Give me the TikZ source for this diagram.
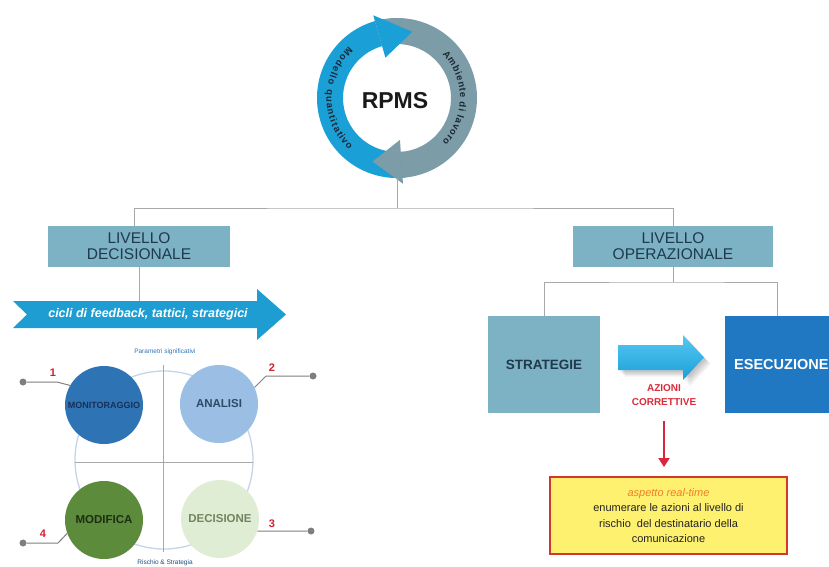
\documentclass[tikz,border=0pt]{standalone}
\usepackage{fontspec}
\setmainfont{Liberation Sans}
\usetikzlibrary{decorations.text,arrows.meta}
\definecolor{ringblue}{HTML}{1A9FD6}
\definecolor{ringgray}{HTML}{7C9DA7}
\definecolor{ringtext}{HTML}{1B2836}
\definecolor{rpmstext}{HTML}{1A1A1A}
\definecolor{boxteal}{HTML}{7DB1C4}
\definecolor{boxtext}{HTML}{1E3A4C}
\definecolor{linegray}{HTML}{A8A8A8}
\definecolor{fbblue}{HTML}{1E9DD3}
\definecolor{exeblue}{HTML}{1F78C1}
\definecolor{cyanlight}{HTML}{55C8F2}
\definecolor{cyandark}{HTML}{1C9FD8}
\definecolor{redtxt}{HTML}{D92B3A}
\definecolor{redarrow}{HTML}{D9263E}
\definecolor{ybfill}{HTML}{FFF170}
\definecolor{ybborder}{HTML}{D3362C}
\definecolor{ybtext}{HTML}{222222}
\definecolor{orangetxt}{HTML}{F07E26}
\definecolor{monblue}{HTML}{2E74B5}
\definecolor{montext}{HTML}{1B2F55}
\definecolor{anblue}{HTML}{9BBEE4}
\definecolor{antext}{HTML}{2F4A66}
\definecolor{modgreen}{HTML}{5B8B3B}
\definecolor{modtext}{HTML}{1E2D14}
\definecolor{decgreen}{HTML}{E0EDD5}
\definecolor{dectext}{HTML}{6F8560}
\definecolor{outlinecol}{HTML}{C5D5E8}
\definecolor{crossgray}{HTML}{A8A8A8}
\definecolor{numred}{HTML}{D0202E}
\definecolor{dotgray}{HTML}{7F7F7F}
\definecolor{paramblue}{HTML}{2E75B6}
\definecolor{rischioblue}{HTML}{1F4E79}
\begin{document}
\begin{tikzpicture}[x=1pt,y=1pt,
  conn/.style={draw=linegray, line width=1pt},
  levelbox/.style={rectangle, fill=boxteal, text=boxtext, align=center, inner sep=0pt,
    minimum height=41pt, font=\fontsize{15.5}{16}\selectfont},
  stratbox/.style={rectangle, inner sep=0pt, minimum width=112pt, minimum height=97pt},
  phase/.style={circle, inner sep=0pt, minimum size=78pt, font=\fontsize{11.5}{12}\selectfont\bfseries},
  num/.style={text=numred, font=\fontsize{11}{12}\selectfont\bfseries, inner sep=0pt},
  dot/.style={circle, fill=dotgray, inner sep=0pt, minimum size=7pt},
  callout/.style={draw=dotgray, line width=1pt},
  tinylabel/.style={font=\fontsize{6.5}{7}\selectfont, inner sep=0pt}]
\useasboundingbox (0,0) rectangle (829,-566);
\fill[white] (0,0) rectangle (829,-566);

% ---------- RPMS ring ----------
\node[circle, minimum size=160pt, inner sep=0pt] (ring) at (397,-98) {};
\begin{scope}[shift={(397,-98)}]
  \fill[ringblue] (106:80) arc[start angle=106, end angle=276, radius=80] -- (276:54) arc[start angle=276, end angle=106, radius=54] -- cycle;
  \fill[ringgray] (106:80) arc[start angle=106, end angle=-86, radius=80] -- (-86:54) arc[start angle=-86, end angle=106, radius=54] -- cycle;
  \fill[ringblue] (106:42) -- (106:86) -- (77:68) -- cycle;
  \fill[ringgray] (-86:42) -- (-86:86) -- (249:68) -- cycle;
  \path[decorate, decoration={text effects along path, text={Modello quantitativo}, text align=center,
      text effects/.cd, text along path,
      every character/.append style={font=\fontsize{9.5}{10}\selectfont\bfseries, text=ringtext},
      character widths={inner xsep=0.7pt}}]
      (122:70.5) arc[start angle=122, end angle=238, radius=70.5];
  \path[decorate, decoration={text effects along path, text={Ambiente di lavoro}, text align=center,
      text effects/.cd, text along path,
      every character/.append style={font=\fontsize{9.5}{10}\selectfont\bfseries, text=ringtext},
      character widths={inner xsep=0.4pt}}]
      (58:63) arc[start angle=58, end angle=-58, radius=63];
  \node[font=\fontsize{23}{24}\selectfont\bfseries, text=rpmstext] (rpms) at (-2,-3) {RPMS};
\end{scope}

% ---------- level boxes ----------
\node[levelbox, minimum width=182pt] (lvd) at (139,-246.5) {LIVELLO\\DECISIONALE};
\node[levelbox, minimum width=200pt] (lvo) at (673,-246.5) {LIVELLO\\OPERAZIONALE};
\coordinate (hub) at (397,-208);
\draw[conn] (ring.south) -- (hub);
\draw[conn] ([xshift=-5pt]lvd.north) |- (hub) -| (lvo.north);

% ---------- feedback arrow ----------
\fill[fbblue] (13,-301) -- (257,-301) -- (257,-289) -- (286,-314.5) -- (257,-340) -- (257,-328) -- (13,-328) -- (27,-314.5) -- cycle;
\node[font=\fontsize{12.5}{13}\selectfont\bfseries\itshape, text=white] (fb) at (148,-314.5) {cicli di feedback, tattici, strategici};
\coordinate (fbtop) at (139,-301);
\draw[conn] (lvd.south) -- (fbtop);

% ---------- operational subtree ----------
\node[stratbox, fill=boxteal, text=boxtext, font=\fontsize{13.5}{14}\selectfont\bfseries] (strat) at (544,-364.5) {STRATEGIE};
\node[stratbox, fill=exeblue, minimum width=104pt] (exec) at (777,-364.5) {};
\node[anchor=west, text=white, inner sep=0pt, font=\fontsize{14.5}{15}\selectfont\bfseries] (exectext) at (734,-364) {ESECUZIONE};
\coordinate (split) at (673,-282);
\draw[conn] (lvo.south) -- (split);
\draw[conn] (strat.north) |- (split) -| (exec.north);

% cyan arrow with soft shadow
\foreach \s in {2,3.5,5,6.5}{
  \begin{scope}[shift={(\s,-\s)}]
    \fill[black, opacity=0.06] (618,-345) -- (683,-345) -- (683,-335) -- (704,-357.5) -- (683,-380) -- (683,-370) -- (618,-370) -- cycle;
  \end{scope}}
\shade[top color=cyanlight, bottom color=cyandark] (618,-345) -- (683,-345) -- (683,-335) -- (704,-357.5) -- (683,-380) -- (683,-370) -- (618,-370) -- cycle;

\node[align=center, text=redtxt, font=\fontsize{10}{14}\selectfont\bfseries] (azioni) at (664,-395) {AZIONI\\CORRETTIVE};
\node[draw=ybborder, line width=2pt, fill=ybfill, minimum width=237pt, minimum height=77pt,
  align=center, inner sep=0pt, text=ybtext, font=\fontsize{11}{15.3}\selectfont] (yb) at (668.5,-515.5)
  {{\color{orangetxt}\itshape aspetto real-time}\\enumerare le azioni al livello di\\rischio\ \ del destinatario della\\comunicazione};
\draw[draw=redarrow, line width=2pt, -{Triangle[length=9pt,width=11pt]}, shorten <=12pt, shorten >=9pt]
  (azioni.south) -- (azioni.south |- yb.north);

% ---------- decision cycle ----------
\draw[draw=outlinecol, line width=1.3pt] (164,-460) circle[radius=89];
\draw[draw=crossgray, line width=1pt] (163,-365) -- (163,-552);
\draw[draw=crossgray, line width=1pt] (75,-462) -- (253,-462);
\node[phase, fill=monblue, text=montext, font=\fontsize{9}{9}\selectfont\bfseries] (mon) at (104,-405) {MONITORAGGIO};
\node[phase, fill=anblue, text=antext] (ana) at (219,-404) {ANALISI};
\node[phase, fill=modgreen, text=modtext] (mod) at (104,-520) {MODIFICA};
\node[phase, fill=decgreen, text=dectext] (dec) at (220,-519) {DECISIONE};

\node[dot] (d1) at (23,-382) {};
\node[dot] (d2) at (313,-376) {};
\node[dot] (d3) at (311,-531) {};
\node[dot] (d4) at (23,-543) {};
\draw[callout] (d1) -- (57,-382) -- (mon.150);
\draw[callout] (d2) -- (266,-376) -- (ana.25);
\draw[callout] (d3) -- (dec.-18);
\draw[callout] (d4) -- (58,-543) -- (mod.200);
\node[num] (n1) at (53,-373) {1};
\node[num] (n2) at (272,-368) {2};
\node[num] (n3) at (272,-524) {3};
\node[num] (n4) at (43,-534) {4};

\node[tinylabel, text=paramblue] (param) at (165,-352) {Parametri significativi};
\node[tinylabel, text=rischioblue] (rischio) at (165,-563) {Rischio \& Strategia};
\end{tikzpicture}
\end{document}
